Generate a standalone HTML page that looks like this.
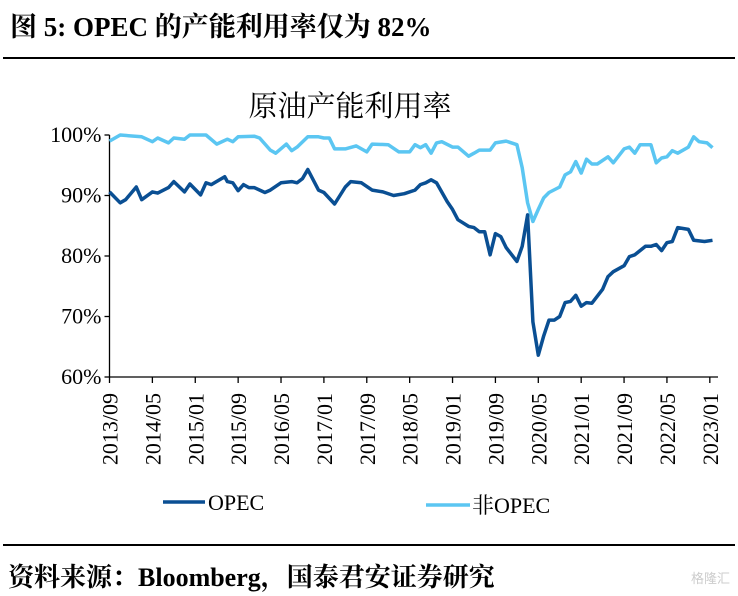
<!DOCTYPE html>
<html><head><meta charset="utf-8"><style>
body{margin:0;background:#fff;width:738px;height:596px;overflow:hidden;font-family:"Liberation Serif","Noto Serif CJK SC",serif}
svg{display:block}
</style></head><body>
<svg id="c" width="738" height="596">
<text x="10" y="36" font-size="27" font-weight="bold" font-family="Liberation Serif, Noto Serif CJK SC, serif">图 5:  OPEC 的产能利用率仅为 82%</text>
<line x1="3" y1="58" x2="735" y2="58" stroke="#000" stroke-width="2"/>
<text x="350" y="116" font-size="29" text-anchor="middle" font-family="Liberation Serif, Noto Serif CJK SC, serif">原油产能利用率</text>
<g id="axes"></g>
<g id="lines"></g>
<g>
<line x1="163" y1="502" x2="205" y2="502" stroke="#0a4f93" stroke-width="3.5"/>
<text x="208" y="510" font-size="22">OPEC</text>
<line x1="426" y1="505" x2="470" y2="505" stroke="#5bc6f2" stroke-width="3.5"/>
<text x="472" y="513" font-size="22" font-family="Liberation Serif, Noto Serif CJK SC, serif">非OPEC</text>
</g>
<line x1="3" y1="545" x2="735" y2="545" stroke="#000" stroke-width="2"/>
<text x="8" y="586" font-size="26" font-weight="bold" font-family="Liberation Serif, Noto Serif CJK SC, serif">资料来源：Bloomberg，国泰君安证券研究</text>
<text x="730" y="583" font-size="13" fill="#ccc" text-anchor="end" font-family="Liberation Sans, Noto Sans CJK SC, sans-serif">格隆汇</text>
</svg>
<script>
const tickLabels=["2013/09","2014/05","2015/01","2015/09","2016/05","2017/01","2017/09","2018/05","2019/01","2019/09","2020/05","2021/01","2021/09","2022/05","2023/01"];
const yTicks=[60,70,80,90,100];
const opecMonths=[0,2,3,5,6,8,9,11,12,14,15,17,18,19,21.5,22,23,24,25,26,27,29,30,32,34,35,36,37,39,40,42,44,45,47,49,51,53,55,57,58,59,60,61,63,64,65,67,68,69,70,71,72,73,74,76,77,78,79,80,81,82,83,84,85,86,87,88,89,90,92,93,94,96,97,98,100,101,102,103,104,105,106,108,109,111,112.5];
const opecValues=[90.6,88.8,89.3,91.4,89.3,90.6,90.4,91.3,92.3,90.6,91.9,90.1,92.1,91.8,93.1,92.3,92.1,90.8,91.8,91.3,91.3,90.5,90.9,92.1,92.3,92.1,92.8,94.3,90.9,90.5,88.6,91.4,92.3,92.1,90.9,90.6,90.0,90.3,90.9,91.8,92.1,92.6,92.1,89.0,87.7,86.0,84.9,84.7,84.0,84.0,80.2,83.7,83.2,81.4,79.1,81.6,86.8,69.1,63.6,66.8,69.4,69.4,70.0,72.3,72.5,73.5,71.7,72.3,72.2,74.5,76.6,77.4,78.4,79.9,80.2,81.6,81.6,81.9,80.9,82.2,82.4,84.7,84.4,82.6,82.4,82.6];
const nonOpecMonths=[0,2,6,8,9,11,12,14,15,18,20,22,23,24,27,28,30,31,33,34,35,37,39,40,41,42,44,46,48,49,52,54,56,57,58,59,60,61,62,64,65,67,68,69,71,72,74,76,77,78,79,80,81,82,84,85,86,87,88,89,90,91,93,94,96,97,98,99,101,102,103,104,105,106,108,109,110,111.5,112.5];
const nonOpecValues=[99.0,100,99.7,98.9,99.5,98.7,99.5,99.3,100,100,98.5,99.3,98.9,99.7,99.8,99.5,97.5,97.0,98.5,97.4,98.0,99.7,99.7,99.5,99.5,97.7,97.7,98.2,97.2,98.5,98.4,97.2,97.2,98.4,97.9,98.4,97.0,98.7,98.9,98.0,98.0,96.5,97.0,97.5,97.5,98.7,99.0,98.4,94.6,88.8,85.7,87.7,89.6,90.5,91.4,93.4,93.9,95.6,93.7,96.0,95.2,95.2,96.4,95.4,97.7,98.0,97.0,98.4,98.4,95.4,96.2,96.4,97.4,97.0,98.0,99.7,98.9,98.7,97.9];
const NS="http://www.w3.org/2000/svg";
const X0=109.5,PXM=5.36,Y0=377,PXP=6.05;
function xs(m){return X0+m*PXM;}
function ys(v){return Y0-(v-60)*PXP;}
const axes=document.getElementById('axes'),lines=document.getElementById('lines');
function mk(t,a,p){const e=document.createElementNS(NS,t);for(const k in a)e.setAttribute(k,a[k]);p.appendChild(e);return e;}
let e=mk('line',{x1:X0,y1:ys(100),x2:X0,y2:Y0,stroke:'#000','stroke-width':1.3},axes);


e=mk('line',{x1:X0,y1:Y0,x2:718,y2:Y0,stroke:'#000','stroke-width':1.3},axes);


yTicks.forEach(v=>{
 const y=ys(v);
 let t=mk('line',{x1:X0-5,y1:y,x2:X0,y2:y,stroke:'#000','stroke-width':1.3},axes);
 
 
 let l=mk('text',{x:X0-8,y:y+7,'font-size':22,'text-anchor':'end'},axes);
 l.textContent=v+'%';
 
 
});
tickLabels.forEach((s,i)=>{
 const x=xs(i*8);
 let t=mk('line',{x1:x,y1:Y0,x2:x,y2:Y0+6,stroke:'#000','stroke-width':1.3},axes);
 
 
 let l=mk('text',{x:0,y:0,'font-size':22,'text-anchor':'end',transform:`translate(${x+8},${Y0+16}) rotate(-90)`},axes);
 l.textContent=s;
 
 
});
function path(ms,vs,c,name){
 const d=ms.map((m,i)=>(i?'L':'M')+xs(m).toFixed(1)+','+ys(vs[i]).toFixed(1)).join('');
 const p=mk('path',{d:d,fill:'none',stroke:c,'stroke-width':3.5,'stroke-linejoin':'round'},lines);
 
 
}
path(nonOpecMonths,nonOpecValues,'#5bc6f2','non-opec-line');
path(opecMonths,opecValues,'#0a4f93','opec-line');
</script>
</body></html>
